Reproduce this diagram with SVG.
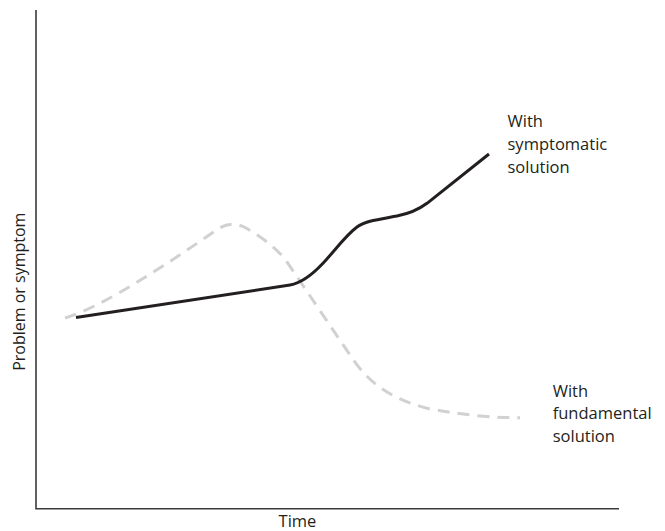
<svg xmlns="http://www.w3.org/2000/svg" width="665" height="531" viewBox="0 0 665 531">
<style>
text{font-family:"Open Sans","Noto Sans","Liberation Sans",sans-serif;font-size:16.5px;fill:#231f20}
.axis{fill:none;stroke:#3a3a3a;stroke-width:1.6}
.fund{fill:none;stroke:#d1d1d1;stroke-width:3;stroke-dasharray:12 8}
.symp{fill:none;stroke:#231f20;stroke-width:3;stroke-linejoin:round}
</style>
<rect width="665" height="531" fill="#fff"/>
<g id="axes">
<path class="axis" d="M36,10 V508.7 H619"/>
<text x="297.5" y="526.5" text-anchor="middle">Time</text>
<text transform="translate(25,291.7) rotate(-90)" text-anchor="middle" style="font-size:16px">Problem or symptom</text>
</g>
<g id="connectors">
<path id="fundamental-curve" class="fund" d="M65,318 C105,306 170,262 218,229 Q232,220 246,228 C258,235 272,244 285,259 L350,355 C365,378 385,398 430,409 C470,416 495,417.7 520,417.7"/>
<path id="symptomatic-curve" class="symp" d="M76,317.5 L290,285 C302,283 312,275 323,263.3 C334,251.6 345,236 357,227 C365,221 378,219.5 397,216 C410,213.5 418,210 427,203.3 L489,154"/>
</g>
<g id="label-symptomatic">
<text x="507.5" y="127.3">With</text>
<text x="507.5" y="150">symptomatic</text>
<text x="507.5" y="172.7">solution</text>
</g>
<g id="label-fundamental">
<text x="552.7" y="396.7">With</text>
<text x="552.7" y="419.3">fundamental</text>
<text x="552.7" y="441.7">solution</text>
</g>
</svg>
